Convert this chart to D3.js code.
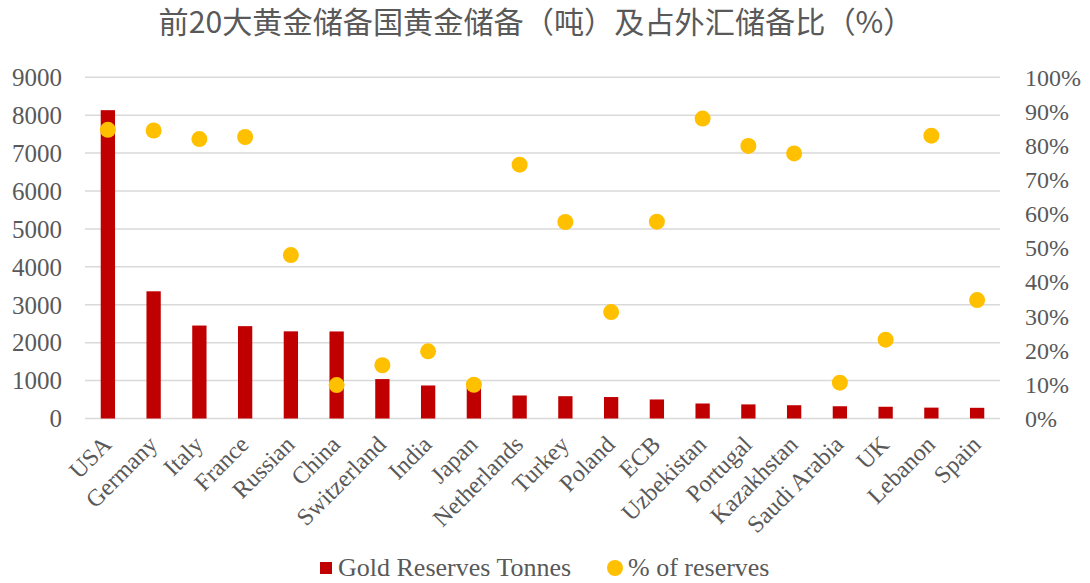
<!DOCTYPE html>
<html>
<head>
<meta charset="utf-8">
<script src="https://cdn.jsdelivr.net/npm/d3@7"></script>
<style>
  body { margin: 0; background: #fff; }
  svg text { font-family: "Liberation Serif", "DejaVu Serif", serif; fill: #595959; }
</style>
</head>
<body>
<div id="chart"></div>
<script>
var countries = ["USA","Germany","Italy","France","Russian","China","Switzerland","India","Japan","Netherlands",
    "Turkey","Poland","ECB","Uzbekistan","Portugal","Kazakhstan","Saudi Arabia","UK","Lebanon","Spain"];
var tonnes = [8133, 3355, 2452, 2436, 2299, 2296, 1040, 871, 846, 607,
    588, 566, 502, 396, 372, 350, 323, 310, 287, 282];
var pctReserves = [84.6, 84.4, 81.9, 82.5, 47.9, 9.8, 15.6, 19.7, 9.9, 74.4,
    57.6, 31.2, 57.7, 87.9, 79.9, 77.7, 10.5, 23.1, 82.9, 34.7];
var leftTicks = [0,1000,2000,3000,4000,5000,6000,7000,8000,9000];
var rightTicks = [0,10,20,30,40,50,60,70,80,90,100];

var title = "前20大黄金储备国黄金储备（吨）及占外汇储备比（%）";
var legendNames = ["Gold Reserves Tonnes", "% of reserves"];

var width = 1090, height = 583;
var plotLeft = 85, plotRight = 1000, plotTop = 77.3, plotBottom = 418.5;

var svg = d3.select("#chart").append("svg")
    .attr("width", width)
    .attr("height", height);

var x = d3.scaleBand().domain(countries).range([plotLeft, plotRight]);
var y = d3.scaleLinear().domain([0, 9000]).range([plotBottom, plotTop]);
var y2 = d3.scaleLinear().domain([0, 100]).range([plotBottom, plotTop]);

// title
svg.append("text")
    .attr("x", 536)
    .attr("y", 33)
    .attr("text-anchor", "middle")
    .style("font-family", "'Noto Sans CJK SC', sans-serif")
    .style("font-size", "30px")
    .attr("textLength", 755)
    .attr("lengthAdjust", "spacingAndGlyphs")
    .text(title);

// gridlines
svg.append("g").selectAll("line")
    .data(leftTicks)
    .enter().append("line")
    .attr("x1", plotLeft).attr("x2", plotRight)
    .attr("y1", d => y(d)).attr("y2", d => y(d))
    .style("stroke", "#d9d9d9")
    .style("stroke-width", 1.5);

// left axis labels
svg.append("g").selectAll("text")
    .data(leftTicks)
    .enter().append("text")
    .attr("x", 62)
    .attr("y", d => y(d))
    .attr("dy", "0.35em")
    .attr("text-anchor", "end")
    .style("font-size", "25px")
    .text(d => d);

// right axis labels
svg.append("g").selectAll("text")
    .data(rightTicks)
    .enter().append("text")
    .attr("x", 1025)
    .attr("y", d => y2(d))
    .attr("dy", "0.35em")
    .style("font-size", "24px")
    .text(d => d + "%");

// bars
var barW = 14.3;
svg.append("g").selectAll("rect")
    .data(countries)
    .enter().append("rect")
    .attr("x", (d, i) => x(d) + x.bandwidth() / 2 - barW / 2)
    .attr("y", (d, i) => y(tonnes[i]))
    .attr("width", barW)
    .attr("height", (d, i) => y(0) - y(tonnes[i]))
    .style("fill", "#c00000");

// dots
svg.append("g").selectAll("circle")
    .data(countries)
    .enter().append("circle")
    .attr("cx", d => x(d) + x.bandwidth() / 2)
    .attr("cy", (d, i) => y2(pctReserves[i]))
    .attr("r", 8)
    .style("fill", "#ffc000");

// x labels
svg.append("g").selectAll("text")
    .data(countries)
    .enter().append("text")
    .attr("transform", d => "translate(" + (x(d) + x.bandwidth() / 2 + 5) + ",446) rotate(-45)")
    .attr("text-anchor", "end")
    .style("font-size", "24px")
    .text(d => d);

// legend
var lg = svg.append("g");
lg.append("rect")
    .attr("x", 320).attr("y", 562)
    .attr("width", 12).attr("height", 12)
    .style("fill", "#c00000");
lg.append("text")
    .attr("x", 338).attr("y", 576)
    .style("font-size", "26px")
    .text(legendNames[0]);
lg.append("circle")
    .attr("cx", 615).attr("cy", 568)
    .attr("r", 8)
    .style("fill", "#ffc000");
lg.append("text")
    .attr("x", 628).attr("y", 576)
    .style("font-size", "26px")
    .text(legendNames[1]);
</script>
</body>
</html>
